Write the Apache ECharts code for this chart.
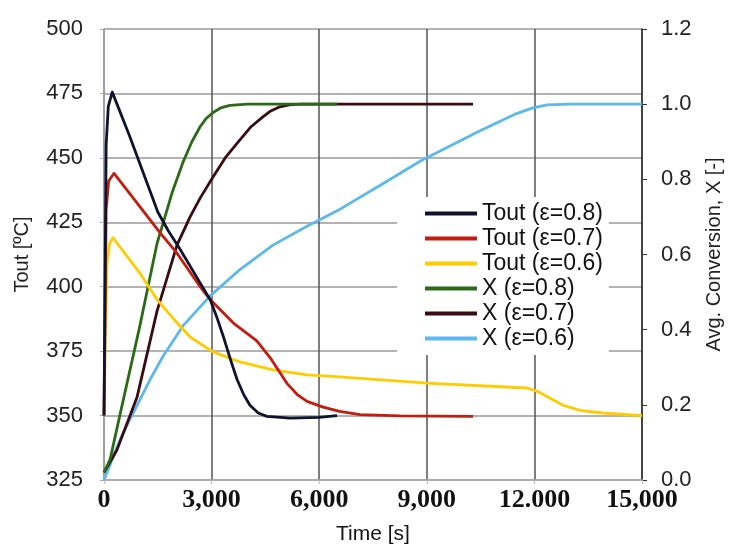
<!DOCTYPE html>
<html>
<head>
<meta charset="utf-8">
<script src="https://cdn.jsdelivr.net/npm/echarts@6/dist/echarts.min.js"></script>
<style>
  html, body { margin: 0; padding: 0; background: #fff; }
  #chart { width: 733px; height: 552px; }
</style>
</head>
<body>
<div id="chart"></div>
<script>
// 横轴刻度文字（原图 12.000 用的是句点）
const xTickLabels = ['0', '3,000', '6,000', '9,000', '12.000', '15,000'];

// 出口温度 Tout [ºC]，[时间 s, 温度]
const toutE08 = [[0, 350], [60, 455], [120, 470], [230, 475.5], [700, 459], [1340, 435], [1500, 429], [1800, 421.5], [2100, 415],
  [2680, 401.5], [2960, 395], [3150, 388], [3320, 381], [3520, 372], [3710, 364], [3900, 358], [4070, 354], [4300, 351],
  [4540, 349.7], [5190, 349], [6000, 349.3], [6500, 350]];
const toutE07 = [[0, 350], [60, 430], [130, 441], [280, 444], [865, 433.5], [1560, 421], [2035, 413], [2680, 400], [2960, 395],
  [3600, 386], [4260, 379], [4630, 372.5], [5100, 362.5], [5400, 358], [5660, 355.5], [6110, 353.3], [6570, 351.6],
  [7140, 350.4], [8250, 349.9], [10290, 349.7]];
const toutE06 = [[0, 350], [80, 408], [150, 416.5], [250, 419], [1000, 405.3], [1480, 395], [2035, 386], [2400, 380.5],
  [3040, 374.7], [3790, 370.8], [4710, 367.7], [5660, 365.8], [6570, 365], [9000, 362.6], [11790, 360.7], [12070, 359.5],
  [12400, 357], [12800, 354], [13270, 352], [13910, 351], [15000, 350]];

// 平均转化率 X [-]
const xE08 = [[0, 0.02], [170, 0.055], [530, 0.21], [1000, 0.41], [1480, 0.63], [1700, 0.70], [1900, 0.765], [2200, 0.845],
  [2450, 0.9], [2680, 0.94], [2850, 0.962], [3040, 0.978], [3250, 0.99], [3510, 0.997], [4000, 1.0], [6500, 1.0]];
const xE07 = [[0, 0.02], [360, 0.08], [920, 0.22], [1480, 0.45], [2035, 0.625], [2400, 0.70], [2680, 0.75], [3040, 0.806],
  [3400, 0.86], [3790, 0.905], [4100, 0.94], [4430, 0.966], [4650, 0.982], [4900, 0.993], [5200, 0.999], [5500, 1.0],
  [10290, 1.0]];
const xE06 = [[0, 0], [170, 0.04], [350, 0.085], [530, 0.125], [1000, 0.213], [1300, 0.27], [1650, 0.33], [2200, 0.41],
  [2960, 0.49], [3790, 0.56], [4710, 0.625], [5660, 0.675], [6570, 0.72], [7890, 0.795], [8810, 0.848], [10400, 0.925],
  [11500, 0.975], [11960, 0.99], [12350, 0.998], [13000, 1.0], [15000, 1.0]];

const seriesNames = ['Tout (ε=0.8)', 'Tout (ε=0.7)', 'Tout (ε=0.6)', 'X (ε=0.8)', 'X (ε=0.7)', 'X (ε=0.6)'];
const seriesData = [toutE08, toutE07, toutE06, xE08, xE07, xE06];
const seriesColors = ['#0e1430', '#c21d0e', '#ffcc00', '#2b6a17', '#3a0c12', '#5cb8ee'];

const chart = echarts.init(document.getElementById('chart'));

const tickFont = { color: '#222', fontSize: 22, fontFamily: 'Liberation Sans, Arial, sans-serif' };

chart.setOption({
  animation: false,
  backgroundColor: '#fff',
  grid: { left: 104, right: 91, top: 29, bottom: 72 },
  legend: {
    data: seriesNames,
    orient: 'vertical',
    left: 397,
    top: 197,
    backgroundColor: '#fff',
    padding: [4, 6, 4, 28],
    itemGap: 0,
    itemWidth: 52,
    itemHeight: 4,
    icon: 'rect',
    textStyle: { color: '#111', fontSize: 23, lineHeight: 25, fontFamily: 'Liberation Sans, Arial, sans-serif' }
  },
  xAxis: {
    type: 'value', min: 0, max: 15000, interval: 3000,
    name: 'Time [s]', nameLocation: 'middle', nameGap: 44,
    nameTextStyle: { color: '#111', fontSize: 21, fontFamily: 'Liberation Sans Narrow, Liberation Sans, sans-serif' },
    axisLine: { show: true, lineStyle: { color: '#aaa', width: 1.5 } },
    axisTick: { show: true, length: 4, lineStyle: { color: '#bbb' } },
    axisLabel: {
      color: '#111', fontSize: 26, fontWeight: 'bold', fontFamily: 'Liberation Serif, serif', margin: 7,
      formatter: v => xTickLabels[Math.round(v / 3000)]
    },
    splitLine: { show: true, lineStyle: { color: '#555', width: 1.5 } }
  },
  yAxis: [{
    type: 'value', min: 325, max: 500, interval: 25, position: 'left',
    name: 'Tout [ºC]', nameLocation: 'middle', nameGap: 72, nameRotate: 90,
    nameTextStyle: { color: '#222', fontSize: 20, fontFamily: 'Liberation Sans, Arial, sans-serif' },
    axisLine: { show: true, lineStyle: { color: '#aaa', width: 1.5 } },
    axisTick: { show: true, length: 4, lineStyle: { color: '#aaa' } },
    axisLabel: Object.assign({ margin: 21 }, tickFont),
    splitLine: { show: true, lineStyle: { color: '#9a9a9a', width: 1.5 } }
  }, {
    type: 'value', min: 0, max: 1.2, interval: 0.2, position: 'right',
    name: 'Avg. Conversion, X [-]', nameLocation: 'middle', nameGap: 62, nameRotate: 90,
    nameTextStyle: { color: '#222', fontSize: 20, fontFamily: 'Liberation Sans, Arial, sans-serif' },
    axisLine: { show: true, lineStyle: { color: '#333', width: 1.5 } },
    axisTick: { show: true, length: 5, lineStyle: { color: '#333' } },
    axisLabel: Object.assign({ margin: 19, formatter: v => v.toFixed(1) }, tickFont),
    splitLine: { show: false }
  }],
  series: seriesNames.map((name, i) => ({
    name: name,
    type: 'line',
    yAxisIndex: i < 3 ? 0 : 1,
    data: seriesData[i],
    symbol: 'none',
    color: seriesColors[i],
    lineStyle: { width: 2.8, color: seriesColors[i], join: 'round' },
    z: 10 - i
  }))
});
</script>
</body>
</html>
